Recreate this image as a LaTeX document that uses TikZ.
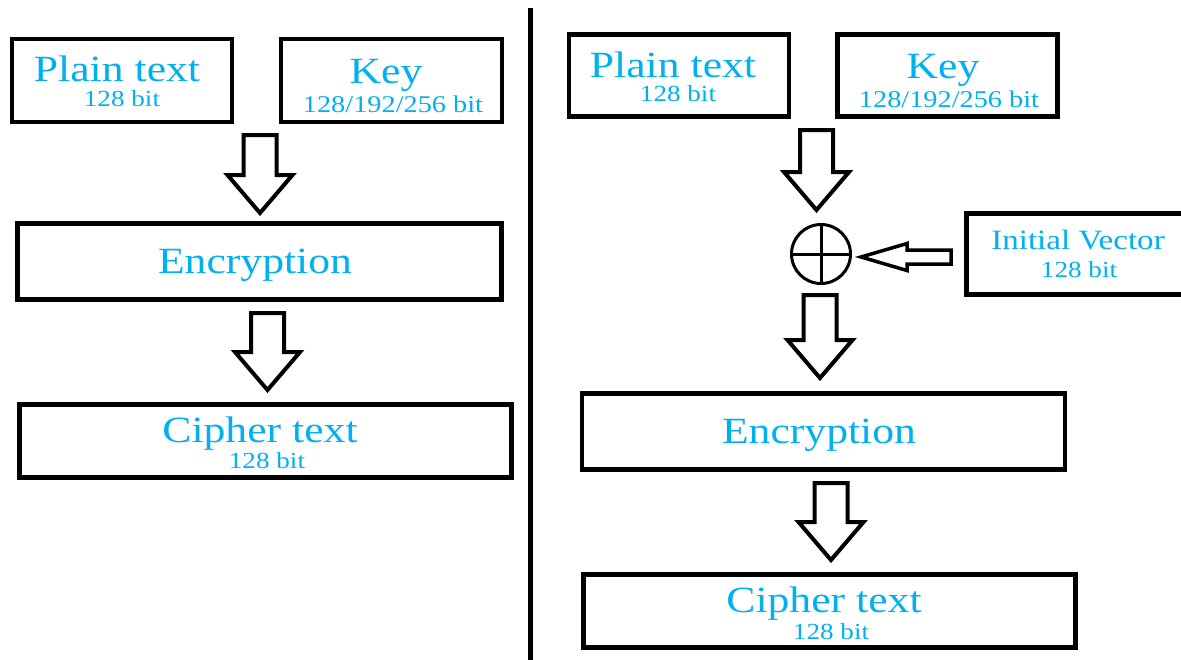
\documentclass[tikz,border=0pt]{standalone}
\usepackage{fontspec}
\setmainfont{Liberation Serif}[FakeStretch=1.18]
\usepackage{tikz}
\usepackage{xcolor}

\definecolor{labelblue}{RGB}{0,176,240}
\newcommand{\headfont}{\fontsize{37}{40}\selectfont}
\newcommand{\bitfont}{\fontsize{23}{25}\selectfont}

\tikzset{
  box/.style={rectangle,draw,line width=4.5pt,inner sep=0pt},
  head/.style={text=labelblue,anchor=base,inner sep=0pt,font=\headfont},
  bits/.style={text=labelblue,anchor=base,inner sep=0pt,font=\bitfont},
  % hollow block arrow pointing down, #1 = length from tail to tip
  pics/blockdown/.style={code={
    \draw[line width=4pt,line join=miter]
      (-16.5,0) -- (16.5,0) -- (16.5,#1-38) -- (32.5,#1-38) -- (0,#1)
      -- (-32.5,#1-38) -- (-16.5,#1-38) -- cycle;
  }},
  % smaller one pointing left, tip at the origin
  pics/blockleft/.style={code={
    \draw[line width=3.5pt,line join=miter]
      (0,0) -- (46,-13.5) -- (46,-7) -- (#1,-7) -- (#1,7) -- (46,7)
      -- (46,13.5) -- cycle;
  }}
}

\begin{document}
\begin{tikzpicture}[x=1pt,y=-1pt]
\useasboundingbox (0,0) rectangle (1181,659);

% left: plain block encryption
\begin{scope}[every node/.style={box}]
    \node[minimum width=220pt,minimum height=83pt] (plainL) at (122,80.5) {};
    \node[minimum width=221pt,minimum height=83pt] (keyL) at (391.5,80.5) {};
    \node[minimum width=484pt,minimum height=76pt] (encL) at (259.5,261.5) {};
    \node[minimum width=492pt,minimum height=73pt] (ciphL) at (265.5,441) {};
\end{scope}

\node[head] (plainLt) at (117,81) {Plain text};
\node[bits] (plainLb) at (122,106) {128 bit};
\node[head] (keyLt) at (386,83) {Key};
\node[bits,font=\fontsize{24}{26}\selectfont] (keyLb) at (393,112) {128/192/256 bit};
\node[head] (encLt) at (255,273) {Encryption};
\node[head] (ciphLt) at (260,442) {Cipher text};
\node[bits] (ciphLb) at (267,468) {128 bit};

\pic at (260,135) {blockdown=78};
\pic at (267.5,313) {blockdown=77};

% divider
\draw[line width=5pt] (530,8) -- (530,665);

% right: with initial vector
\begin{scope}[every node/.style={box}]
    \node[minimum width=220pt,minimum height=82pt] (plainR) at (679,75.5) {};
    \node[minimum width=220pt,minimum height=82pt] (keyR) at (947.5,75.5) {};
    \node[minimum width=223.5pt,minimum height=81pt] (ivR) at (1078.25,254) {};
    \node[minimum width=483pt,minimum height=76pt] (encR) at (823.5,431.5) {};
    \node[minimum width=492pt,minimum height=73pt] (ciphR) at (829.5,611) {};
\end{scope}

\node[head] (plainRt) at (673,77) {Plain text};
\node[bits] (plainRb) at (678,101) {128 bit};
\node[head] (keyRt) at (943,78) {Key};
\node[bits,font=\fontsize{24}{26}\selectfont] (keyRb) at (949,107) {128/192/256 bit};
\node[head,font=\fontsize{28}{30}\selectfont] (ivRt) at (1078,249) {Initial Vector};
\node[bits] (ivRb) at (1079,277) {128 bit};
\node[head] (encRt) at (819,443) {Encryption};
\node[head] (ciphRt) at (824,612) {Cipher text};
\node[bits] (ciphRb) at (831,639) {128 bit};

% xor
\node[circle,draw,line width=3pt,minimum size=59pt,inner sep=0pt,outer sep=0pt] (xor) at (821,254) {};
\draw[line width=3pt] (xor.north) -- (xor.south) (xor.west) -- (xor.east);

\pic at (816.5,130) {blockdown=80};
\pic at (861,257) {blockleft=90};
\pic at (820,295) {blockdown=83};
\pic at (831,483) {blockdown=77};
\end{tikzpicture}
\end{document}
